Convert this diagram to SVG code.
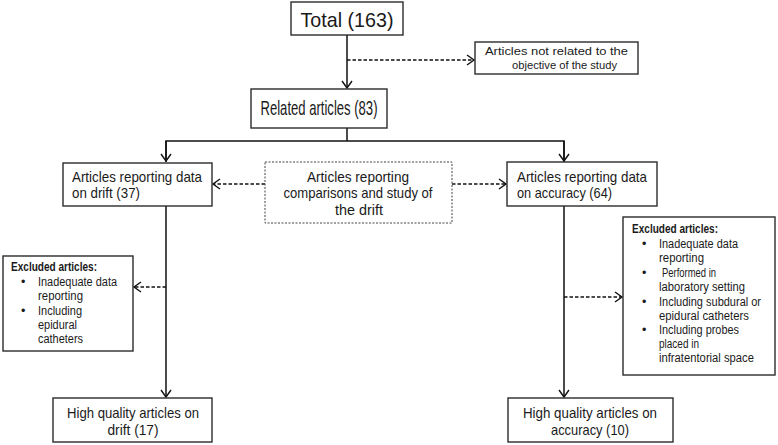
<svg xmlns="http://www.w3.org/2000/svg" width="778" height="445" viewBox="0 0 778 445">
<style>
  .box { fill: #fff; stroke: #2b2b2b; stroke-width: 1.4; }
  .dotbox { fill: #fff; stroke: #444; stroke-width: 1; stroke-dasharray: 2 1.5; }
  text { font-family: "Liberation Sans", Arial, sans-serif; fill: #1a1a1a; }
  .big { font-size: 21px; }
  .mid { font-size: 15px; }
  .sm { font-size: 12.5px; }
  .xs { font-size: 11px; }
  .b { font-weight: bold; }
  .c { text-anchor: middle; }
  .line { fill: none; stroke: #111; stroke-width: 1.5; }
  .dash { fill: none; stroke: #111; stroke-width: 1.3; stroke-dasharray: 3.5 2; }
</style>
<defs>
  <marker id="arr" markerUnits="userSpaceOnUse" markerWidth="14" markerHeight="14" viewBox="-12 -7 14 14" refX="0" refY="0" orient="auto">
    <path d="M-7,-5 L0,0 L-7,5" fill="none" stroke="#111" stroke-width="1.4"/>
  </marker>
</defs>

<g id="connectors">
  <line class="line" x1="347" y1="35" x2="347" y2="88" marker-end="url(#arr)"/>
  <line class="dash" x1="347" y1="60" x2="474" y2="60" marker-end="url(#arr)"/>
  <polyline class="line" points="347,128 347,141"/>
  <polyline class="line" points="166,162 166,141 564,141 564,162"/>
  <line class="line" x1="166" y1="141" x2="166" y2="161" marker-end="url(#arr)"/>
  <line class="line" x1="564" y1="141" x2="564" y2="161" marker-end="url(#arr)"/>
  <line class="dash" x1="265" y1="184" x2="213" y2="184" marker-end="url(#arr)"/>
  <line class="dash" x1="452" y1="184" x2="506" y2="184" marker-end="url(#arr)"/>
  <line class="line" x1="166" y1="206" x2="166" y2="397" marker-end="url(#arr)"/>
  <line class="dash" x1="166" y1="287" x2="134" y2="287" marker-end="url(#arr)"/>
  <line class="line" x1="564" y1="206" x2="564" y2="397" marker-end="url(#arr)"/>
  <line class="dash" x1="564" y1="297" x2="622" y2="297" marker-end="url(#arr)"/>
</g>

<g id="total">
  <rect class="box" x="291" y="2" width="112" height="33"/>
  <text class="big c" x="347" y="27" textLength="93" lengthAdjust="spacingAndGlyphs">Total (163)</text>
</g>

<g id="not-related">
  <rect class="box" x="475" y="42" width="163" height="32"/>
  <text class="xs" x="485" y="55" textLength="143" lengthAdjust="spacingAndGlyphs">Articles not related to the</text>
  <text class="xs" x="512" y="69" textLength="105" lengthAdjust="spacingAndGlyphs">objective of the study</text>
</g>

<g id="related">
  <rect class="box" x="251" y="89" width="136" height="39"/>
  <text class="big c" x="319" y="115" textLength="117" lengthAdjust="spacingAndGlyphs">Related articles (83)</text>
</g>

<g id="drift">
  <rect class="box" x="63" y="163" width="149" height="43"/>
  <text class="mid" x="72" y="182" textLength="130" lengthAdjust="spacingAndGlyphs">Articles reporting data</text>
  <text class="mid" x="72" y="198" textLength="68" lengthAdjust="spacingAndGlyphs">on drift (37)</text>
</g>

<g id="comparisons">
  <rect class="dotbox" x="265" y="162" width="187" height="61"/>
  <text class="mid c" x="358" y="182" textLength="102" lengthAdjust="spacingAndGlyphs">Articles reporting</text>
  <text class="mid c" x="358" y="198" textLength="149" lengthAdjust="spacingAndGlyphs">comparisons and study of</text>
  <text class="mid c" x="359" y="215" textLength="48" lengthAdjust="spacingAndGlyphs">the drift</text>
</g>

<g id="accuracy">
  <rect class="box" x="507" y="162" width="150" height="44"/>
  <text class="mid" x="517" y="182" textLength="130" lengthAdjust="spacingAndGlyphs">Articles reporting data</text>
  <text class="mid" x="517" y="198" textLength="95" lengthAdjust="spacingAndGlyphs">on accuracy (64)</text>
</g>

<g id="excluded-drift">
  <rect class="box" x="3" y="256" width="130" height="95"/>
  <text class="sm b" x="11" y="271" textLength="86" lengthAdjust="spacingAndGlyphs">Excluded articles:</text>
  <text class="sm" x="21" y="286">•</text>
  <text class="sm" x="38" y="286" textLength="79" lengthAdjust="spacingAndGlyphs">Inadequate data</text>
  <text class="sm" x="38" y="300" textLength="45" lengthAdjust="spacingAndGlyphs">reporting</text>
  <text class="sm" x="21" y="315">•</text>
  <text class="sm" x="38" y="315" textLength="44" lengthAdjust="spacingAndGlyphs">Including</text>
  <text class="sm" x="38" y="329" textLength="39" lengthAdjust="spacingAndGlyphs">epidural</text>
  <text class="sm" x="38" y="343" textLength="45" lengthAdjust="spacingAndGlyphs">catheters</text>
</g>

<g id="excluded-accuracy">
  <rect class="box" x="623" y="217" width="152" height="158"/>
  <text class="sm b" x="632" y="233" textLength="86" lengthAdjust="spacingAndGlyphs">Excluded articles:</text>
  <text class="sm" x="642" y="248">•</text>
  <text class="sm" x="659" y="248" textLength="79" lengthAdjust="spacingAndGlyphs">Inadequate data</text>
  <text class="sm" x="659" y="262" textLength="45" lengthAdjust="spacingAndGlyphs">reporting</text>
  <text class="sm" x="642" y="277">•</text>
  <text class="sm" x="662" y="277" textLength="54" lengthAdjust="spacingAndGlyphs">Performed in</text>
  <text class="sm" x="659" y="291" textLength="86" lengthAdjust="spacingAndGlyphs">laboratory setting</text>
  <text class="sm" x="642" y="306">•</text>
  <text x="659" y="306" font-size="12" textLength="102" lengthAdjust="spacingAndGlyphs">Including subdural or</text>
  <text class="sm" x="659" y="320" textLength="90" lengthAdjust="spacingAndGlyphs">epidural catheters</text>
  <text class="sm" x="642" y="334">•</text>
  <text class="sm" x="659" y="334" textLength="80" lengthAdjust="spacingAndGlyphs">Including probes</text>
  <text class="sm" x="659" y="348" textLength="40" lengthAdjust="spacingAndGlyphs">placed in</text>
  <text class="sm" x="659" y="362" textLength="95" lengthAdjust="spacingAndGlyphs">infratentorial space</text>
</g>

<g id="hq-drift">
  <rect class="box" x="53" y="398" width="159" height="44"/>
  <text class="mid c" x="133" y="418" textLength="132" lengthAdjust="spacingAndGlyphs">High quality articles on</text>
  <text class="mid c" x="133" y="435" textLength="51" lengthAdjust="spacingAndGlyphs">drift (17)</text>
</g>

<g id="hq-accuracy">
  <rect class="box" x="508" y="398" width="165" height="44"/>
  <text class="mid c" x="590" y="418" textLength="134" lengthAdjust="spacingAndGlyphs">High quality articles on</text>
  <text class="mid c" x="590" y="435" textLength="78" lengthAdjust="spacingAndGlyphs">accuracy (10)</text>
</g>
</svg>
